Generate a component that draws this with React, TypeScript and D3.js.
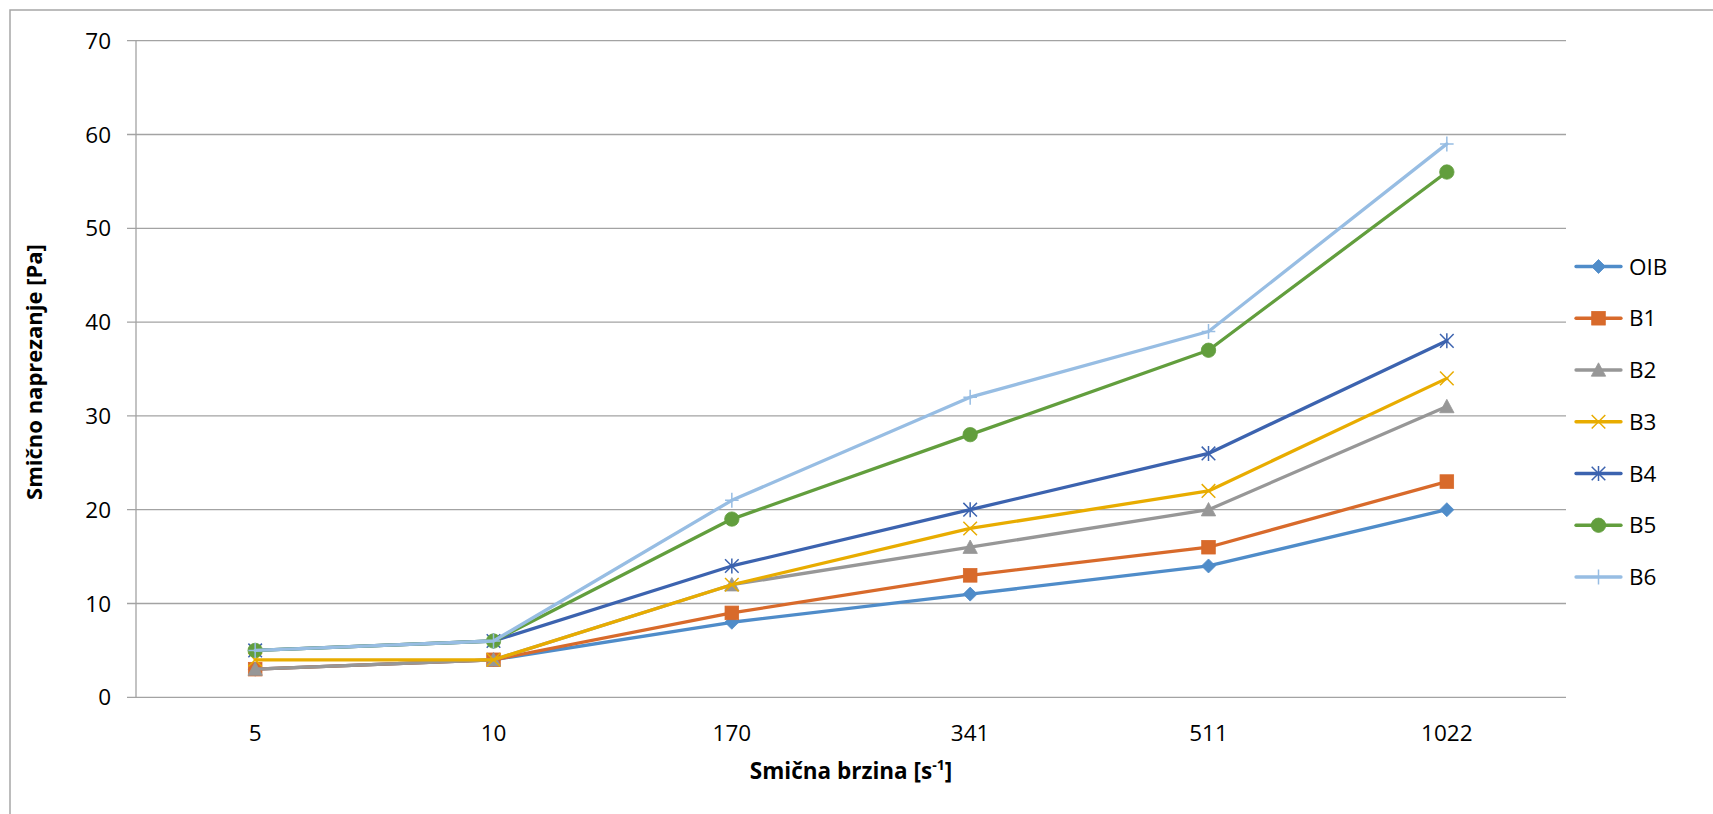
import React from 'react';
import * as d3 from 'd3';

const categories = ['5', '10', '170', '341', '511', '1022'];
const seriesNames = ['OIB', 'B1', 'B2', 'B3', 'B4', 'B5', 'B6'];
const OIB = [3, 4, 8, 11, 14, 20];
const B1 = [3, 4, 9, 13, 16, 23];
const B2 = [3, 4, 12, 16, 20, 31];
const B3 = [4, 4, 12, 18, 22, 34];
const B4 = [5, 6, 14, 20, 26, 38];
const B5 = [5, 6, 19, 28, 37, 56];
const B6 = [5, 6, 21, 32, 39, 59];
const seriesValues = [OIB, B1, B2, B3, B4, B5, B6];
const yTicks = [0, 10, 20, 30, 40, 50, 60, 70];
const colors = ['#4F8CC9', '#D86A2B', '#979797', '#E8AC00', '#3C63AF', '#629E3D', '#97BDE3'];
const markerTypes = ['diamond', 'square', 'triangle', 'x', 'star', 'circle', 'plus'];

const FONT = "'Open Sans', 'Noto Sans', sans-serif";
const GRID = '#A3A3A3';

function Marker({ type, cx, cy, color }: { type: string; cx: number; cy: number; color: string }) {
  const s = 7;
  switch (type) {
    case 'diamond':
      return <path d={`M${cx},${cy - s}L${cx + s},${cy}L${cx},${cy + s}L${cx - s},${cy}Z`} fill={color} stroke={color} strokeWidth={0.8} />;
    case 'square':
      return <rect x={cx - 6.8} y={cy - 6.8} width={13.6} height={13.6} fill={color} stroke={color} strokeWidth={0.8} />;
    case 'triangle':
      return <path d={`M${cx},${cy - 7.2}L${cx + 7.2},${cy + 6.2}L${cx - 7.2},${cy + 6.2}Z`} fill={color} stroke={color} strokeWidth={0.8} />;
    case 'x':
      return <path d={`M${cx - 6.8},${cy - 6.8}L${cx + 6.8},${cy + 6.8}M${cx - 6.8},${cy + 6.8}L${cx + 6.8},${cy - 6.8}`} stroke={color} strokeWidth={1.5} fill="none" />;
    case 'star':
      return <path d={`M${cx - 6.8},${cy - 6.8}L${cx + 6.8},${cy + 6.8}M${cx - 6.8},${cy + 6.8}L${cx + 6.8},${cy - 6.8}M${cx},${cy - 7.5}L${cx},${cy + 7.5}`} stroke={color} strokeWidth={1.5} fill="none" />;
    case 'circle':
      return <circle cx={cx} cy={cy} r={7.2} fill={color} stroke={color} strokeWidth={0.8} />;
    case 'plus':
      return <path d={`M${cx - 6.8},${cy}L${cx + 6.8},${cy}M${cx},${cy - 7.5}L${cx},${cy + 7.5}`} stroke={color} strokeWidth={1.5} fill="none" />;
    default:
      return null;
  }
}

export default function App() {
  const W = 1713;
  const H = 814;
  const left = 136;
  const right = 1566;
  const top = 40.7;
  const bottom = 697.3;

  const x = d3.scaleBand<string>().domain(categories).range([left, right]);
  const cx = (c: string) => (x(c) as number) + x.bandwidth() / 2;
  const y = d3.scaleLinear().domain([0, 70]).range([bottom, top]);

  const line = d3
    .line<number>()
    .x((_, i) => cx(categories[i]))
    .y((d) => y(d));

  const legendY = d3.scaleLinear().domain([0, 6]).range([266.5, 577]);

  return (
    <svg width={W} height={H} style={{ position: 'absolute', left: 0, top: 0, background: '#fff' }}>
      <rect x={10} y={10} width={2000} height={1000} fill="#fff" stroke="#A6A6A6" strokeWidth={1.5} />
      {yTicks.map((t) => (
        <line key={'g' + t} x1={left - 9} x2={right} y1={y(t)} y2={y(t)} stroke={GRID} strokeWidth={1.3} />
      ))}
      <line x1={left} x2={left} y1={top} y2={bottom} stroke={GRID} strokeWidth={1.3} />
      {yTicks.map((t) => (
        <text key={'yt' + t} x={111} y={y(t) + 8} textAnchor="end" fontFamily={FONT} fontSize={22.5} fill="#000">
          {t}
        </text>
      ))}
      {categories.map((c) => (
        <text key={'xt' + c} x={cx(c)} y={740.5} textAnchor="middle" fontFamily={FONT} fontSize={22.5} fill="#000">
          {c}
        </text>
      ))}
      <text x={(left + right) / 2} y={779} textAnchor="middle" fontFamily={FONT} fontSize={22.5} fontWeight="bold" fill="#000">
        Smična brzina [s
        <tspan baselineShift="super" fontSize={14}>-1</tspan>]
      </text>
      <text
        transform={`translate(41.5,${(top + bottom) / 2 + 3}) rotate(-90)`}
        textAnchor="middle"
        fontFamily={FONT}
        fontSize={22}
        fontWeight="bold"
        fill="#000"
      >
        Smično naprezanje [Pa]
      </text>
      {seriesValues.map((vals, si) => (
        <g key={'s' + si}>
          <path d={line(vals) as string} fill="none" stroke={colors[si]} strokeWidth={3.3} strokeLinejoin="round" strokeLinecap="round" />
          {vals.map((v, i) => (
            <Marker key={i} type={markerTypes[si]} cx={cx(categories[i])} cy={y(v)} color={colors[si]} />
          ))}
        </g>
      ))}
      {seriesNames.map((n, si) => {
        const ly = legendY(si);
        return (
          <g key={'l' + n}>
            <line x1={1576} x2={1621} y1={ly} y2={ly} stroke={colors[si]} strokeWidth={3.3} strokeLinecap="round" />
            <Marker type={markerTypes[si]} cx={1598.5} cy={ly} color={colors[si]} />
            <text x={1629} y={ly + 8} fontFamily={FONT} fontSize={22.5} fill="#000">
              {n}
            </text>
          </g>
        );
      })}
    </svg>
  );
}
